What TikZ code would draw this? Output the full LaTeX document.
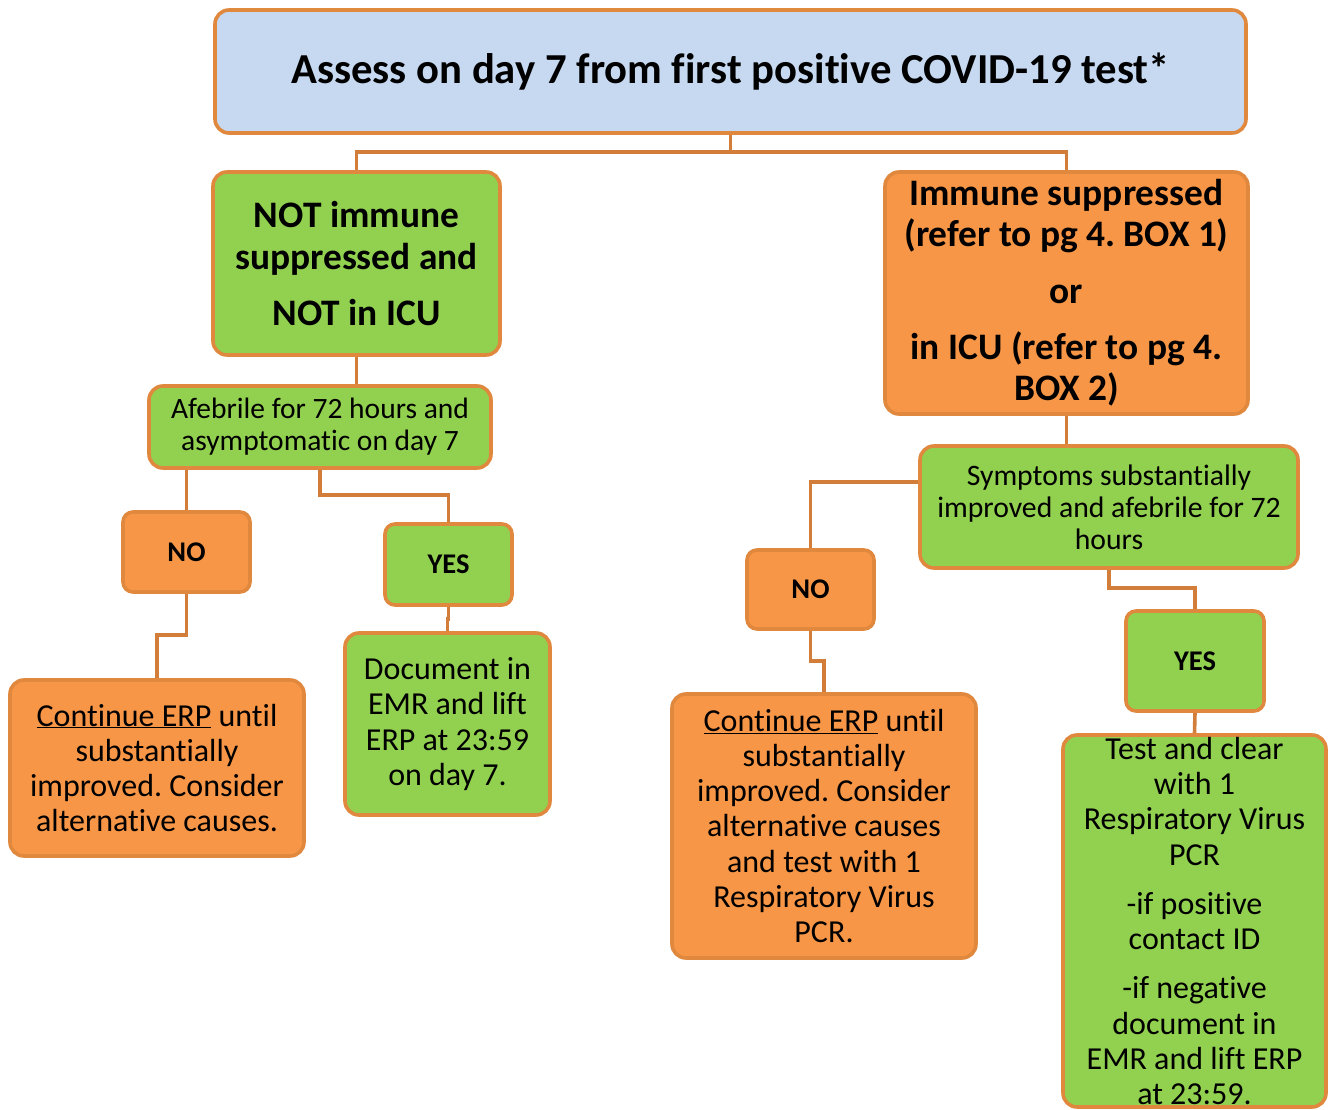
\documentclass[tikz,border=0pt]{standalone}
\usepackage{fontspec}
\setmainfont{Carlito}[Ligatures=NoCommon]
\frenchspacing
\definecolor{bord}{RGB}{224,137,62}
\definecolor{connc}{RGB}{210,125,58}
\definecolor{gfill}{RGB}{146,208,80}
\definecolor{ofill}{RGB}{247,150,70}
\definecolor{bfill}{RGB}{198,217,241}
\tikzset{
  box/.style={draw=bord, line width=3.6pt, rounded corners=14pt, inner sep=0pt, align=center, text=black},
  gbox/.style={box, fill=gfill},
  obox/.style={box, fill=ofill},
  conn/.style={draw=connc, line width=3.6pt},
  fbig/.style={font=\fontsize{32}{35.3}\selectfont},
  fyn/.style={font=\fontsize{28.5}{32}\selectfont\bfseries},
}
\begin{document}
\begin{tikzpicture}[x=1pt,y=-1pt]
\useasboundingbox (0,0) rectangle (1333,1110);
\clip (0,0) rectangle (1333,1110);
% nodes
\node[box, fill=bfill, minimum width=1031pt, minimum height=123pt, font=\fontsize{42.7}{48}\selectfont\bfseries] (top) at (730.5,71.5) {Assess on day 7 from first positive COVID-19 test*};
\node[gbox, minimum width=287pt, minimum height=183pt, font=\fontsize{37.4}{42}\selectfont\bfseries] (nl) at (356.5,263.5) {NOT immune\\suppressed and\\[14pt]NOT in ICU};
\node[obox, minimum width=363pt, minimum height=242pt, font=\fontsize{37.4}{41}\selectfont\bfseries] (im) at (1066.5,293) {Immune suppressed\\(refer to pg 4. BOX 1)\\[16pt]or\\[15pt]in ICU (refer to pg 4.\\BOX 2)};
\node[gbox, minimum width=342pt, minimum height=82pt, font=\fontsize{29.5}{32}\selectfont] (af) at (320,427) {Afebrile for 72 hours and\\asymptomatic on day 7};
\node[obox, rounded corners=10pt, minimum width=127pt, minimum height=80pt, fyn] (no1) at (186.5,552) {NO};
\node[gbox, rounded corners=10pt, minimum width=127pt, minimum height=81pt, fyn] (yes1) at (448.5,564.5) {YES};
\node[obox, minimum width=294pt, minimum height=176pt, fbig] (c1) at (157,768) {\underline{Continue ERP} until\\substantially\\improved. Consider\\alternative causes.};
\node[gbox, minimum width=205pt, minimum height=182pt, fbig] (doc) at (447.5,724) {Document in\\EMR and lift\\ERP at 23:59\\on day 7.};
\node[gbox, minimum width=378pt, minimum height=122pt, font=\fontsize{29.7}{32}\selectfont] (sy) at (1109,507) {Symptoms substantially\\improved and afebrile for 72\\hours};
\node[obox, rounded corners=10pt, minimum width=127pt, minimum height=79pt, fyn] (no2) at (810.5,589.5) {NO};
\node[obox, minimum width=304pt, minimum height=264pt, fbig] (c2) at (824,826) {\underline{Continue ERP} until\\substantially\\improved. Consider\\alternative causes\\and test with 1\\Respiratory Virus\\PCR.};
\node[gbox, rounded corners=10pt, minimum width=138pt, minimum height=100pt, fyn] (yes2) at (1195,661) {YES};
\node[gbox, minimum width=263pt, minimum height=372pt, fbig] (test) at (1194.5,921) {Test and clear\\with 1\\Respiratory Virus\\PCR\\[14pt]-if positive\\contact ID\\[14pt]-if negative\\document in\\EMR and lift ERP\\at 23:59.};
% connectors
\draw[conn] (top.south) -- ++(0,17) -| (nl.north);
\draw[conn] (top.south) -- ++(0,17) -| (im.north);
\draw[conn] (nl.south) -- (nl.south |- af.north);
\draw[conn] (no1.north |- af.south) -- (no1.north);
\draw[conn] (af.south) -- ++(0,25) -| (yes1.north);
\draw[conn] (no1.south) -- ++(0,41) -| (c1.north);
\draw[conn] (yes1.south) -- ++(0,12) -| (doc.north);
\draw[conn] (im.south) -- (im.south |- sy.north);
\draw[conn] ([yshift=25pt]sy.west) -| (no2.north);
\draw[conn] (no2.south) -- ++(0,30) -| (c2.north);
\draw[conn] (sy.south) -- ++(0,18) -| (yes2.north);
\draw[conn] (yes2.south) -- (test.north);
\end{tikzpicture}
\end{document}
